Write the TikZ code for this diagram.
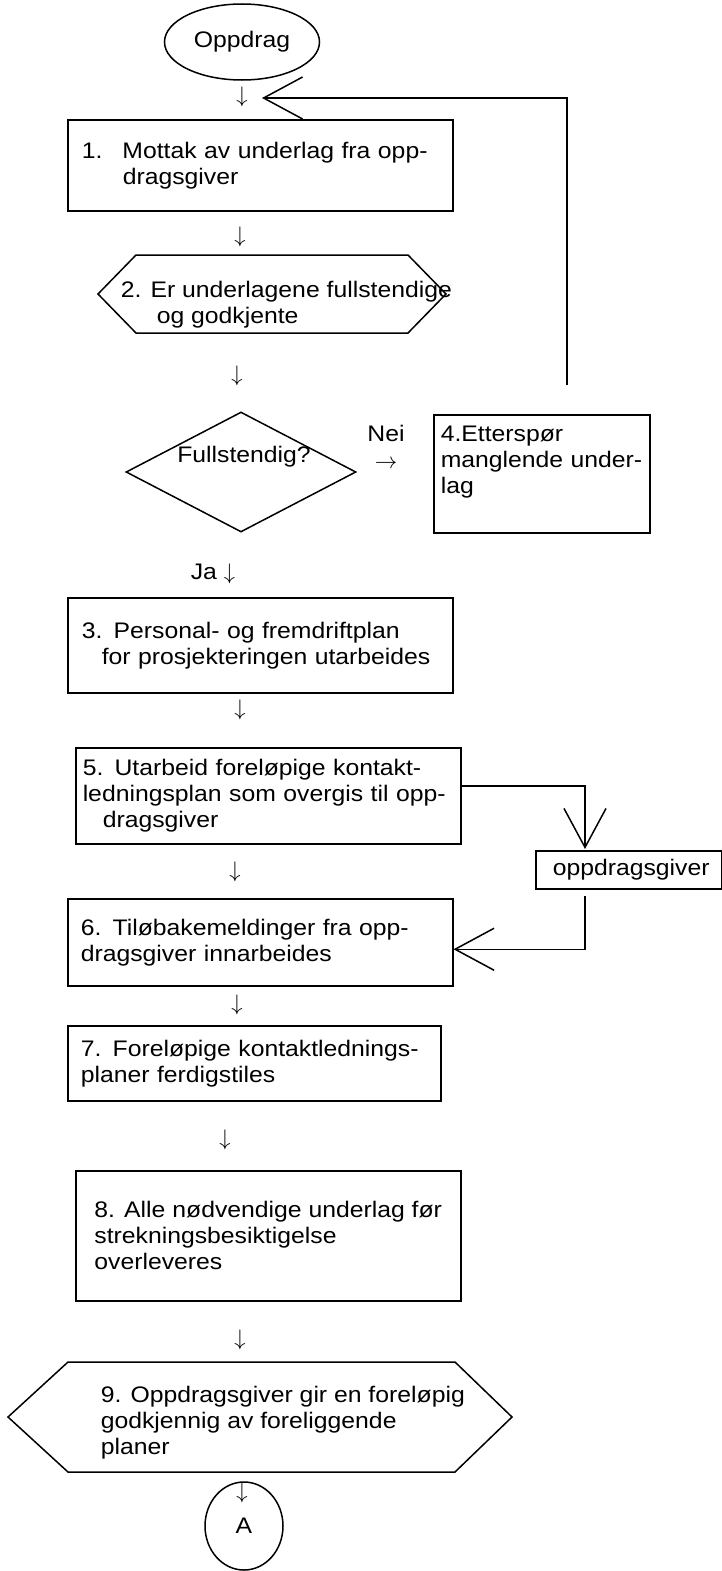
\documentclass[tikz,border=0pt]{standalone}
\usepackage{fix-cm}
\usepackage{fontspec}
\setmainfont{Liberation Sans}[FakeStretch=1.1]
\usetikzlibrary{shapes.geometric,arrows.meta}

\begin{document}
\begin{tikzpicture}[x=1pt, y=-1pt, line width=1.5pt,
    every node/.style={font=\fontsize{22.5}{26}\selectfont},
    box/.style={draw, rectangle, anchor=north west, align=left, inner ysep=0pt},
    txt/.style={anchor=west, align=left, inner sep=0pt},
    down/.style={inner sep=0pt},
    barb/.style={-{Straight Barb[length=39pt, width=42pt]}}]
    \useasboundingbox (0, 0) rectangle (722, 1571);

    \node[draw, ellipse, minimum width=155pt, minimum height=76pt, inner sep=0pt] (start) at (242, 42) {Oppdrag};
    \node[down] (a0) at (242, 97) {$\downarrow$};

    \node[box, inner xsep=14pt, text width=357pt, minimum height=91pt] (b1) at (67, 119)
        {1.\hspace{20pt}Mottak av underlag fra opp-\\\hspace*{41pt}dragsgiver};
    \node[down] (a1) at (240, 237) {$\downarrow$};

    \draw (98, 294) -- (136, 255) -- (408, 255) -- (446, 294) -- (408, 333) -- (136, 333) -- cycle;
    \node[txt] (q2) at (120, 305) {2. Er underlagene fullstendige\\\hspace*{36pt}og godkjente};
    \node[down] (a2) at (237, 376) {$\downarrow$};

    \node[draw, diamond, minimum width=230pt, minimum height=120pt, inner sep=0pt] (dec) at (241, 472) {};
    \node (decl) at (244, 457) {Fullstendig?};
    \node[down] (nei) at (386, 433) {Nei};
    \node[down] (a3) at (386, 464) {$\rightarrow$};
    \node[box, inner xsep=7pt, text width=202pt, minimum height=118pt, text depth=80pt] (b4) at (433, 414)
        {4.Etterspør\\manglende under-\\lag};
    \coordinate (back) at (567, 385);
    \coordinate (backin) at (262, 98);
    \draw[barb] (back) |- (backin);

    \node (ja) at (213, 574) {Ja $\downarrow$};

    \node[box, inner xsep=14pt, text width=357pt, minimum height=95pt] (b3) at (67, 597)
        {3. Personal- og fremdriftplan\\\hspace*{20pt}for prosjekteringen utarbeides};
    \node[down] (a4) at (240, 710) {$\downarrow$};

    \node[box, inner xsep=7pt, text width=371pt, minimum height=96pt] (b5) at (75, 747)
        {5. Utarbeid foreløpige kontakt-\\ledningsplan som overgis til opp-\\\hspace*{20pt}dragsgiver};
    \node[box, inner xsep=17pt, text width=152pt, minimum height=38pt] (og) at (535, 850) {oppdragsgiver};
    \coordinate (ogin) at (585, 849);
    \coordinate (ogout) at (585, 896);
    \draw[barb] ([yshift=10pt]b5.east) -| (ogin);
    \node[down] (a5) at (235, 872) {$\downarrow$};

    \node[box, inner xsep=13pt, text width=359pt, minimum height=87pt] (b6) at (67, 898)
        {6. Tiløbakemeldinger fra opp-\\dragsgiver innarbeides};
    \draw[barb] (ogout) |- ([yshift=-7pt]b6.east);
    \node[down] (a6) at (237, 1005) {$\downarrow$};

    \node[box, inner xsep=13pt, text width=347pt, minimum height=75pt] (b7) at (67, 1025)
        {7. Foreløpige kontaktlednings-\\planer ferdigstiles};
    \node[down] (a7) at (225, 1140) {$\downarrow$};

    \node[box, minimum width=385pt, minimum height=130pt] (b8) at (75, 1170)
        {8. Alle nødvendige underlag før\\strekningsbesiktigelse\\overleveres};
    \node[down] (a8) at (240, 1340) {$\downarrow$};

    \draw (8, 1417) -- (68, 1362) -- (455, 1362) -- (512, 1417) -- (455, 1472) -- (68, 1472) -- cycle;
    \node[txt] (q9) at (100, 1423) {9. Oppdragsgiver gir en foreløpig\\godkjennig av foreliggende\\planer};

    \node[draw, ellipse, minimum width=78pt, minimum height=88pt, inner sep=0pt] (endA) at (244, 1526) {A};
    \node[down] (a9) at (242, 1493) {$\downarrow$};
\end{tikzpicture}
\end{document}
